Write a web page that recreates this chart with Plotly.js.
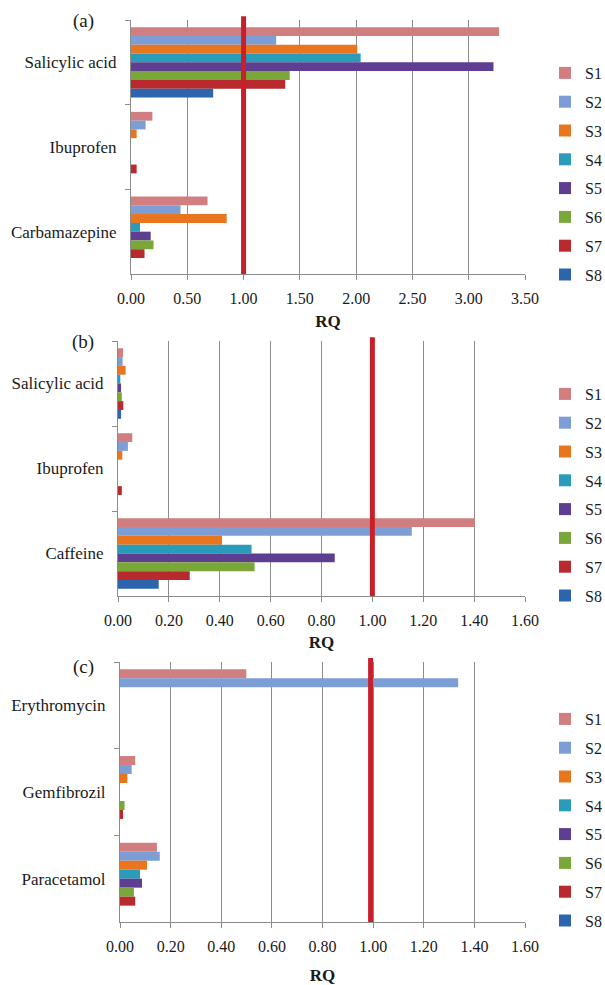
<!DOCTYPE html>
<html>
<head>
<meta charset="utf-8">
<script src="https://cdn.plot.ly/plotly-3.0.1.min.js"></script>
<style>html,body{margin:0;padding:0;background:#fff;}</style>
</head>
<body>
<div id="chart" style="width:605px;height:985px;"></div>
<script>
// ---------- data ----------
const series = ['S1','S2','S3','S4','S5','S6','S7','S8'];
const colors = ['#d17e80','#7d9ed4','#e9761f','#2a9bb8','#5d3e91','#7aa63a','#b82a2e','#2c65ae'];

// Panel (a)
const catsA = ['Salicylic acid','Ibuprofen','Carbamazepine'];
const valsA = {
  S1: [3.27, 0.19, 0.68],
  S2: [1.29, 0.13, 0.44],
  S3: [2.01, 0.05, 0.85],
  S4: [2.04, null, 0.08],
  S5: [3.22, null, 0.175],
  S6: [1.41, null, 0.20],
  S7: [1.37, 0.05, 0.12],
  S8: [0.73, null, null]
};
// Panel (b)
const catsB = ['Salicylic acid','Ibuprofen','Caffeine'];
const valsB = {
  S1: [0.020, 0.056, 1.403],
  S2: [0.018, 0.039, 1.155],
  S3: [0.030, 0.017, 0.409],
  S4: [0.009, null, 0.525],
  S5: [0.012, null, 0.852],
  S6: [0.015, null, 0.537],
  S7: [0.021, 0.015, 0.282],
  S8: [0.012, null, 0.160]
};
// Panel (c)
const catsC = ['Erythromycin','Gemfibrozil','Paracetamol'];
const valsC = {
  S1: [0.499, 0.060, 0.146],
  S2: [1.336, 0.046, 0.157],
  S3: [null, 0.029, 0.107],
  S4: [null, null, 0.079],
  S5: [null, null, 0.087],
  S6: [null, 0.018, 0.055],
  S7: [null, 0.012, 0.060],
  S8: [null, null, null]
};
const panelLabels = ['(a)','(b)','(c)'];
const thresholds = [1.0, 1.0, 0.99];
const xMax = [3.5, 1.6, 1.6];
const xStep = [0.5, 0.2, 0.2];
const axisTitle = 'RQ';

// ---------- layout helpers ----------
const W = 605, H = 985;
const FONT = 'serif';
const GRID = '#8c8c8c';
const TXT = '#1a1a1a';
// plot boxes in pixels: [left, right, top, bottom]
const boxes = [
  [131, 525, 20, 274],
  [118, 525, 341, 596],
  [120, 525, 662, 922]
];
const titleStandoff = [8, 7, 18];
const legendTop = [56, 377, 702];
const labelPos = [[83, 21], [83, 342], [83, 667]];

const panels = [[catsA, valsA], [catsB, valsB], [catsC, valsC]];
const traces = [];
panels.forEach(([cats, vals], p) => {
  const sfx = p === 0 ? '' : String(p + 1);
  series.forEach((s, i) => {
    traces.push({
      type: 'bar',
      orientation: 'h',
      name: s,
      y: cats,
      x: vals[s],
      xaxis: 'x' + sfx,
      yaxis: 'y' + sfx,
      legend: 'legend' + sfx,
      legendgroup: 'g' + p + s,
      marker: {color: colors[i], line: {width: 0}},
      hoverinfo: 'x+y+name'
    });
  });
});

const layout = {
  width: W, height: H,
  margin: {l: 0, r: 0, t: 0, b: 0, autoexpand: false},
  paper_bgcolor: '#ffffff',
  plot_bgcolor: 'rgba(0,0,0,0)',
  font: {family: FONT, size: 16, color: TXT},
  barmode: 'group',
  bargap: 0.17,
  bargroupgap: 0,
  shapes: [],
  annotations: []
};

boxes.forEach((b, p) => {
  const sfx = p === 0 ? '' : String(p + 1);
  layout['xaxis' + sfx] = {
    domain: [b[0] / W, b[1] / W],
    anchor: 'y' + sfx,
    range: [0, xMax[p]],
    dtick: xStep[p], tick0: 0,
    tickformat: '.2f',
    showgrid: true, gridcolor: GRID, gridwidth: 1,
    zeroline: false,
    showline: true, linecolor: GRID, linewidth: 1,
    ticks: 'outside', ticklen: 5, tickcolor: GRID,
    ticklabelstandoff: 5,
    tickfont: {family: FONT, size: 16, color: TXT},
    title: {text: '<b>' + axisTitle + '</b>', standoff: titleStandoff[p], font: {family: FONT, size: 17, color: TXT}},
    fixedrange: true
  };
  layout['yaxis' + sfx] = {
    domain: [1 - b[3] / H, 1 - b[2] / H],
    anchor: 'x' + sfx,
    type: 'category',
    autorange: 'reversed',
    showgrid: false,
    showline: true, linecolor: GRID, linewidth: 1,
    ticks: 'outside', ticklen: 5, tickcolor: GRID,
    tickson: 'boundaries',
    ticklabelstandoff: 10,
    tickfont: {family: FONT, size: 17, color: TXT},
    fixedrange: true
  };
  layout['legend' + sfx] = {
    x: 545 / W, xanchor: 'left',
    y: 1 - legendTop[p] / H, yanchor: 'top',
    traceorder: 'grouped',
    tracegroupgap: 5,
    bgcolor: 'rgba(0,0,0,0)',
    font: {family: FONT, size: 16, color: TXT}
  };
  layout.shapes.push({
    type: 'line', layer: 'above',
    xref: 'x' + sfx, yref: 'y' + sfx + ' domain',
    x0: thresholds[p], x1: thresholds[p], y0: 0, y1: 1.015,
    line: {color: '#c8202a', width: 5}
  });
  layout.annotations.push({
    text: panelLabels[p],
    xref: 'paper', yref: 'paper',
    x: labelPos[p][0] / W, y: 1 - labelPos[p][1] / H,
    xanchor: 'center', yanchor: 'middle',
    showarrow: false,
    font: {family: FONT, size: 19, color: TXT}
  });
});

Plotly.newPlot('chart', traces, layout, {displayModeBar: false, staticPlot: true});
</script>
</body>
</html>
